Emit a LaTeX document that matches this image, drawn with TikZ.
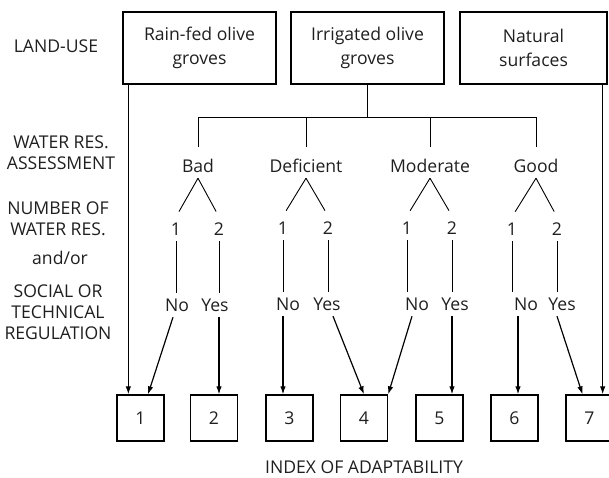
\documentclass[tikz,border=0pt]{standalone}
\usepackage{fontspec}
\setmainfont{Open Sans}
\usetikzlibrary{arrows.meta}
\begin{document}
\begin{tikzpicture}[x=1pt,y=-1pt]
\tikzstyle{every node}=[font=\fontsize{17.6}{21}\selectfont,text=black!88]
\tikzstyle{landbox}=[draw,line width=1.3pt,minimum width=153pt,minimum height=72pt,align=center,font=\fontsize{17.6}{24}\selectfont]
\tikzstyle{lbl}=[align=center]
\tikzstyle{lvl}=[text height=12pt,text depth=0pt,inner sep=5pt]
\tikzstyle{opt}=[text height=12pt,text depth=0pt,inner sep=6pt]
\tikzstyle{idxbox}=[draw,line width=1.3pt,minimum width=47pt,minimum height=46pt,inner sep=0pt]
\tikzstyle{arr}=[-{Latex[length=8pt,width=5.5pt]},line width=1.2pt]
\tikzstyle{tree}=[line width=0.9pt]
\useasboundingbox (0,0) rectangle (609,478);
%
\node[lbl] (lu) at (56,46) {LAND-USE};
\node[lbl] (wra) at (61,153) {WATER RES.\\ASSESSMENT};
\node[lbl] (nwr) at (58,218.5) {NUMBER OF\\WATER RES.};
\node[lbl] (ao) at (60,258) {and/or};
\node[lbl] (str) at (58,312) {SOCIAL OR\\TECHNICAL\\REGULATION};
%
\node[landbox] (rain) at (199.5,48) {Rain-fed olive\\groves};
\node[landbox] (irr) at (367.5,48) {Irrigated olive\\groves};
\node[landbox,minimum width=147pt] (nat) at (533.5,48) {Natural\\surfaces};
%
\node[lvl] (bad) at (198,167) {Bad};
\node[lvl] (def) at (306,167) {Deficient};
\node[lvl] (mod) at (430,167) {Moderate};
\node[lvl] (good) at (536,167) {Good};
%
\node[opt] (bad1) at (176,229) {1};
\node[opt] (bad2) at (219,229) {2};
\node[opt] (def1) at (283,228) {1};
\node[opt] (def2) at (328,228) {2};
\node[opt] (mod1) at (407,228) {1};
\node[opt] (mod2) at (452,228) {2};
\node[opt] (good1) at (512,229) {1};
\node[opt] (good2) at (557,229) {2};
%
\node[opt] (badno) at (177,305) {No};
\node[opt] (badyes) at (215,305) {Yes};
\node[opt] (defno) at (288,304) {No};
\node[opt] (defyes) at (327,304) {Yes};
\node[opt] (modno) at (417,304) {No};
\node[opt] (modyes) at (455,304) {Yes};
\node[opt] (goodno) at (526,304) {No};
\node[opt] (goodyes) at (562,304) {Yes};
%
\node[idxbox] (i1) at (140.5,418) {1};
\node[idxbox] (i2) at (214,418) {2};
\node[idxbox] (i3) at (289.5,418) {3};
\node[idxbox] (i4) at (364,418) {4};
\node[idxbox] (i5) at (439.5,418) {5};
\node[idxbox] (i6) at (514.5,418) {6};
\node[idxbox] (i7) at (589.5,418) {7};
\node (idx) at (364,467) {INDEX OF ADAPTABILITY};
%
\coordinate (fork) at (367.5,117);
\draw[tree] (irr.south) -- (fork);
\draw[tree] (bad.north |- fork) -- (good.north |- fork);
\draw[tree,shorten >=9pt] (bad.north |- fork) -- (bad.north);
\draw[tree,shorten >=9pt] (def.north |- fork) -- (def.north);
\draw[tree,shorten >=9pt] (mod.north |- fork) -- (mod.north);
\draw[tree,shorten >=9pt] (good.north |- fork) -- (good.north);
%
\draw[tree,shorten >=6pt] (bad.south) -- (bad1.north);
\draw[tree,shorten >=6pt] (bad.south) -- (bad2.north);
\draw[tree,shorten >=6pt] (def.south) -- (def1.north);
\draw[tree,shorten >=6pt] (def.south) -- (def2.north);
\draw[tree,shorten >=6pt] (mod.south) -- (mod1.north);
\draw[tree,shorten >=6pt] (mod.south) -- (mod2.north);
\draw[tree,shorten >=6pt] (good.south) -- (good1.north);
\draw[tree,shorten >=6pt] (good.south) -- (good2.north);
%
\draw[tree] (bad1.south) -- (bad1.south |- badno.north);
\draw[tree] (bad2.south) -- (bad2.south |- badyes.north);
\draw[tree] (def1.south) -- (def1.south |- defno.north);
\draw[tree] (def2.south) -- (def2.south |- defyes.north);
\draw[tree] (mod1.south) -- (mod1.south |- modno.north);
\draw[tree] (mod2.south) -- (mod2.south |- modyes.north);
\draw[tree] (good1.south) -- (good1.south |- goodno.north);
\draw[tree] (good2.south) -- (good2.south |- goodyes.north);
%
\draw[arr] ([xshift=6pt]rain.south west) -- ([xshift=6pt]rain.south west |- i1.north);
\draw[arr] ([xshift=-4pt]badno.south) -- ([xshift=7.5pt]i1.north);
\draw[arr] (bad2.south |- badyes.south) -- (bad2.south |- i2.north);
\draw[arr] (def1.south |- defno.south) -- (def1.south |- i3.north);
\draw[arr] ([xshift=6pt]defyes.south) -- (i4.north);
\draw[arr] ([xshift=-5pt]modno.south) -- (i4.north east);
\draw[arr] (mod2.south |- modyes.south) -- (mod2.south |- i5.north);
\draw[arr] ([xshift=-8pt]goodno.south) -- ([xshift=-8pt]goodno.south |- i6.north);
\draw[arr] (good2.south |- goodyes.south) -- ([xshift=-7pt]i7.north);
\draw[arr] ([xshift=-5pt]nat.south east) -- ([xshift=-5pt]nat.south east |- i7.north);
\end{tikzpicture}
\end{document}
